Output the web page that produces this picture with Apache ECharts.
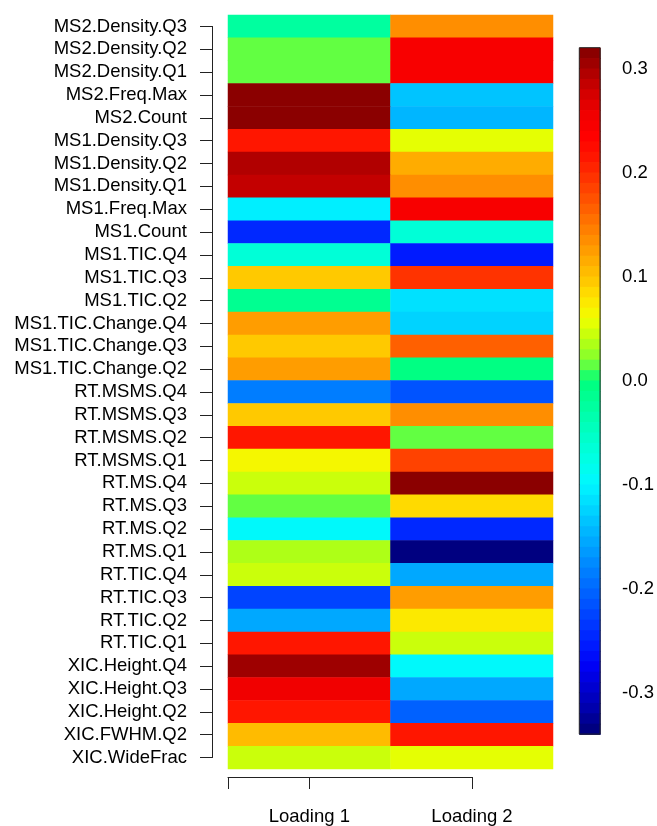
<!DOCTYPE html>
<html>
<head>
<meta charset="utf-8">
<script src="https://cdn.jsdelivr.net/npm/echarts@6/dist/echarts.min.js"></script>
<style>
html,body{margin:0;padding:0;background:#fff;}
#chart{width:657px;height:826px;}
</style>
</head>
<body>
<div id="chart"></div>
<script>
const rows = ['MS2.Density.Q3','MS2.Density.Q2','MS2.Density.Q1','MS2.Freq.Max','MS2.Count',
  'MS1.Density.Q3','MS1.Density.Q2','MS1.Density.Q1','MS1.Freq.Max','MS1.Count',
  'MS1.TIC.Q4','MS1.TIC.Q3','MS1.TIC.Q2','MS1.TIC.Change.Q4','MS1.TIC.Change.Q3','MS1.TIC.Change.Q2',
  'RT.MSMS.Q4','RT.MSMS.Q3','RT.MSMS.Q2','RT.MSMS.Q1','RT.MS.Q4','RT.MS.Q3','RT.MS.Q2','RT.MS.Q1',
  'RT.TIC.Q4','RT.TIC.Q3','RT.TIC.Q2','RT.TIC.Q1','XIC.Height.Q4','XIC.Height.Q3','XIC.Height.Q2',
  'XIC.FWHM.Q2','XIC.WideFrac'];
const columns = ['Loading 1','Loading 2'];
const loading1 = [-0.02, 0.02, 0.02, 0.315, 0.312, 0.22, 0.291, 0.283, -0.107, -0.245,
  -0.067, 0.096, -0.012, 0.128, 0.096, 0.128, -0.185, 0.092, 0.22, 0.062, 0.045, 0.02,
  -0.098, 0.033, 0.042, -0.225, -0.157, 0.218, 0.303, 0.26, 0.218, 0.105, 0.046];
const loading2 = [0.14, 0.25, 0.25, -0.134, -0.148, 0.06, 0.118, 0.137, 0.25, -0.067,
  -0.25, 0.195, -0.115, -0.126, 0.165, -0.003, -0.215, 0.14, 0.02, 0.184, 0.312, 0.085,
  -0.242, -0.332, -0.156, 0.128, 0.075, 0.045, -0.098, -0.156, -0.2, 0.218, 0.058];
const colorbarTicks = [-0.3, -0.2, -0.1, 0.0, 0.1, 0.2, 0.3];
const scaleMin = -0.34, scaleMax = 0.32;

const palette = ['#000080','#0000ac','#0000d0','#0000f4','#0018ff','#0034ff','#0050ff','#006cff',
  '#0088ff','#00a4ff','#00c0ff','#00dcff','#00f8ff','#00ffe8','#00ffd0','#00ffb4','#00ff98',
  '#00ff7c','#80ff30','#bbff10','#f0ff00','#ffe400','#ffc400','#ffa800','#ff8a00','#ff6c00',
  '#ff4e00','#ff3000','#ff1400','#ff0000','#f00000','#d40000','#b00000','#8b0000'];

const heatData = [];
rows.forEach((r, i) => {
  heatData.push([0, i, loading1[i]]);
  heatData.push([1, i, loading2[i]]);
});

const FONT = 'Liberation Sans, Arial, sans-serif';
const FS = 18.5;
const LINE = '#222';

const heatTop = 15, heatBottom = 769, heatLeft = 228, heatRight = 553;
const rowH = (heatBottom - heatTop) / rows.length;
const cbTop = 47.7, cbHeight = 686.4, cbLeft = 579.3, cbWidth = 21.4;
const nPieces = 66;
const overlap = 0.8;

const chart = echarts.init(document.getElementById('chart'), null, {renderer: 'canvas'});
chart.setOption({
  animation: false,
  backgroundColor: '#fff',
  grid: [
    {left: heatLeft, top: heatTop, width: heatRight - heatLeft, height: heatBottom - heatTop},
    {left: 212, top: heatTop + rowH / 2, width: 1, height: heatBottom - heatTop - rowH},
    {left: heatLeft, top: 761, width: 244, height: 20},
    {left: cbLeft, top: cbTop, width: cbWidth, height: cbHeight, show: true,
     borderColor: LINE, borderWidth: 1, backgroundColor: 'transparent', z: 10}
  ],
  xAxis: [
    {type: 'category', gridIndex: 0, data: columns, show: false},
    {type: 'value', gridIndex: 1, show: false, min: 0, max: 1},
    {type: 'value', gridIndex: 2, position: 'bottom', min: -0.5, max: 1,
     axisLine: {show: true, lineStyle: {color: LINE, width: 1}},
     axisTick: {show: true, length: 12, customValues: [-0.5, 0, 1], lineStyle: {color: LINE}},
     axisLabel: {show: true, customValues: [0, 1], margin: 30, color: '#000',
       fontFamily: FONT, fontSize: FS, formatter: v => columns[Math.round(v)]},
     splitLine: {show: false}},
    {type: 'value', gridIndex: 3, show: false, min: 0, max: 1}
  ],
  yAxis: [
    {type: 'category', gridIndex: 0, data: rows, inverse: true, show: false},
    {type: 'value', gridIndex: 1, position: 'left', min: 0, max: rows.length - 1, interval: 1, inverse: true,
     axisLine: {show: true, lineStyle: {color: LINE, width: 1}},
     axisTick: {show: true, length: 12, lineStyle: {color: LINE}},
     axisLabel: {show: true, margin: 25, color: '#000', fontFamily: FONT, fontSize: FS,
       formatter: v => rows[Math.round(v)]},
     splitLine: {show: false}},
    {type: 'value', gridIndex: 2, show: false, min: 0, max: 1},
    {type: 'value', gridIndex: 3, position: 'right', min: scaleMin, max: scaleMax,
     axisLine: {show: false},
     axisTick: {show: true, length: 12, customValues: colorbarTicks, lineStyle: {color: LINE}},
     axisLabel: {show: true, customValues: colorbarTicks, margin: 22, color: '#000',
       fontFamily: FONT, fontSize: FS, formatter: v => v.toFixed(1)},
     splitLine: {show: false}}
  ],
  visualMap: {
    type: 'piecewise',
    seriesIndex: 0,
    min: scaleMin, max: scaleMax, splitNumber: nPieces,
    orient: 'vertical',
    left: cbLeft, top: cbTop,
    itemWidth: cbWidth, itemHeight: cbHeight / nPieces + overlap, itemGap: -overlap,
    itemSymbol: 'rect',
    showLabel: false,
    selectedMode: false, hoverLink: false,
    padding: 0,
    inRange: {color: palette}
  },
  series: [{
    type: 'heatmap',
    xAxisIndex: 0, yAxisIndex: 0,
    data: heatData,
    itemStyle: {borderWidth: 0},
    emphasis: {disabled: true}
  }]
});
</script>
</body>
</html>
